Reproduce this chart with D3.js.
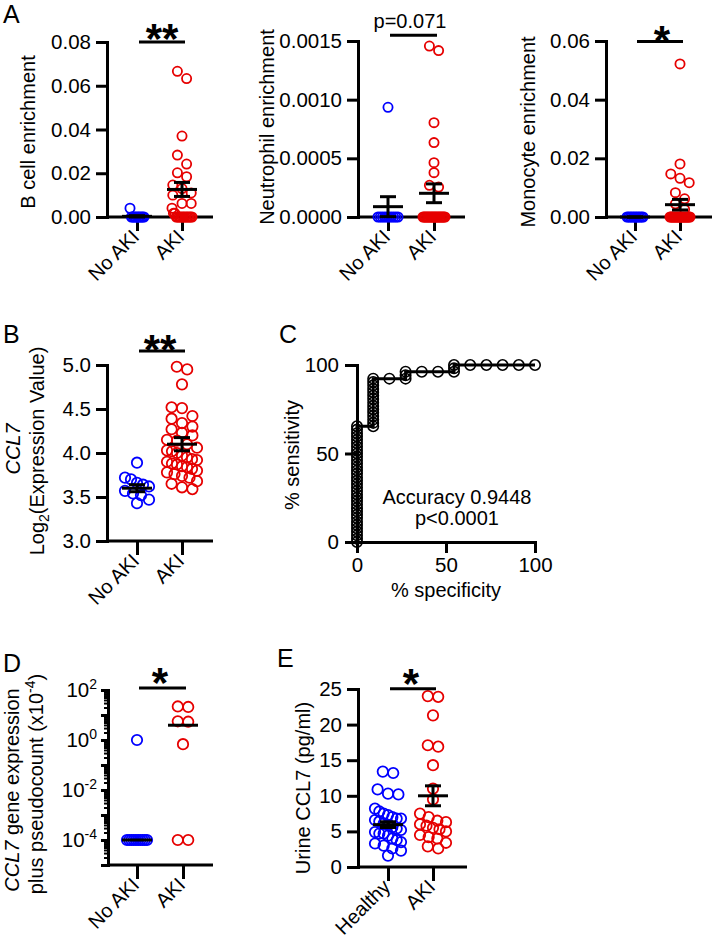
<!DOCTYPE html>
<html><head><meta charset="utf-8">
<script src="https://cdn.jsdelivr.net/npm/d3@7/dist/d3.min.js"></script>
<style>
body{margin:0;background:#fff}
svg text{font-family:"Liberation Sans",Arial,Helvetica,sans-serif;fill:#000}
</style>
</head><body>
<svg id="c" width="714" height="944"></svg>
<script>
// ================= DATA =================
const catsKidney = ["No AKI", "AKI"];
const catsUrine = ["Healthy", "AKI"];
const groupColors = ["#0000ff", "#e60000"];

// Panel A – B cell enrichment
const bcellNoAKI = [0.0040, 0, 0, 0, 0, 0, 0, 0, 0, 0, 0];
const bcellAKI = [0.0666, 0.0633, 0.0370, 0.0283, 0.0242, 0.0202, 0.0184, 0.0146, 0.0130, 0.0110, 0.0100, 0.0062, 0.0062, 0.0040, 0.0017, 0.0017, 0, 0, 0, 0, 0, 0, 0, 0, 0, 0, 0, 0];
const bcellMean = [0.0003, 0.0126];
const bcellSem = [0.0003, 0.0032];
const bcellTicks = [0, 0.02, 0.04, 0.06, 0.08];

// Panel A – Neutrophil enrichment
const neutNoAKI = [0.000935, 0, 0, 0, 0, 0, 0, 0, 0, 0, 0];
const neutAKI = [0.001457, 0.001418, 0.000804, 0.000634, 0.000463, 0.000378, 0.000270, 0.000255, 0, 0, 0, 0, 0, 0, 0, 0, 0, 0, 0, 0, 0, 0, 0, 0, 0, 0, 0, 0];
const neutMean = [0.000088, 0.000202];
const neutSem = [0.000085, 0.000080];
const neutTicks = [0, 0.0005, 0.0010, 0.0015];

// Panel A – Monocyte enrichment
const monoNoAKI = [0, 0, 0, 0, 0, 0, 0, 0, 0, 0, 0];
const monoAKI = [0.0522, 0.0181, 0.0147, 0.0132, 0.0117, 0.0083, 0.0062, 0.0045, 0.0026, 0, 0, 0, 0, 0, 0, 0, 0, 0, 0, 0, 0, 0, 0, 0, 0, 0, 0, 0, 0];
const monoMean = [0, 0.0042];
const monoSem = [0, 0.0018];
const monoTicks = [0, 0.02, 0.04, 0.06];

// Panel B – CCL7 log2 expression
const ccl7NoAKI = [3.89, 3.72, 3.70, 3.66, 3.64, 3.62, 3.57, 3.54, 3.52, 3.47, 3.43];
const ccl7AKI = [4.98, 4.95, 4.78, 4.52, 4.51, 4.42, 4.39, 4.34, 4.30, 4.27, 4.23, 4.20, 4.15, 4.14, 4.10, 4.06, 4.03, 4.02, 4.00, 3.97, 3.95, 3.93, 3.92, 3.90, 3.88, 3.87, 3.85, 3.84, 3.82, 3.80, 3.78, 3.76, 3.74, 3.72, 3.68, 3.65, 3.61, 3.59];
const ccl7Mean = [3.60, 4.10];
const ccl7Sem = [0.04, 0.075];
const ccl7Ticks = [3.0, 3.5, 4.0, 4.5, 5.0];

// Panel C – ROC curve
const rocSpecificity = [0, 0, 0, 0, 0, 0, 0, 0, 0, 0, 0, 0, 0, 0, 0, 0, 0, 0, 0, 0, 0, 0, 0, 0, 0, 0, 0, 0, 0, 0, 0, 0, 0, 0, 0,
  9.1, 9.1, 9.1, 9.1, 9.1, 9.1, 9.1, 9.1, 9.1, 9.1, 9.1, 9.1, 9.1, 9.1, 9.1,
  18.2, 27.3, 27.3, 27.3, 36.4, 45.5, 54.5, 54.5, 54.5, 63.6, 72.7, 81.8, 90.9, 100];
const rocSensitivity = [0, 1.9, 3.8, 5.8, 7.7, 9.6, 11.5, 13.5, 15.4, 17.3, 19.2, 21.2, 23.1, 25.0, 26.9, 28.8, 30.8, 32.7, 34.6, 36.5, 38.5, 40.4, 42.3, 44.2, 46.2, 48.1, 50.0, 51.9, 53.8, 55.8, 57.7, 59.6, 61.5, 63.5, 65.4,
  65.4, 67.3, 69.2, 71.2, 73.1, 75.0, 76.9, 78.8, 80.8, 82.7, 84.6, 86.5, 88.5, 90.4, 92.3,
  92.3, 92.3, 94.2, 96.2, 96.2, 96.2, 96.2, 98.1, 100, 100, 100, 100, 100, 100];
const rocTicks = [0, 50, 100];
const rocText = ["Accuracy 0.9448", "p<0.0001"];

// Panel D – single-cell CCL7 (log scale)
const scNoAKI = [1.0, 1e-4, 1e-4, 1e-4, 1e-4, 1e-4, 1e-4, 1e-4, 1e-4, 1e-4, 1e-4];
const scAKI = [22, 21, 5.6, 5.4, 0.68, 1e-4, 1e-4];
const scMedian = [1e-4, 3.9];
const scTicks = [1e2, 1e0, 1e-2, 1e-4];
const scTickExp = ["2", "0", "-2", "-4"];

// Panel E – urine CCL7
const urineHealthy = [13.4, 13.2, 10.9, 10.3, 10.2, 8.2, 7.8, 7.5, 7.3, 7.0, 6.8, 6.8, 6.6, 6.4, 6.1, 5.9, 5.6, 5.4, 5.2, 4.9, 4.7, 4.7, 4.4, 4.0, 3.8, 3.5, 3.3, 3.0, 2.6, 2.3, 1.6];
const urineAKI = [24.0, 23.9, 21.3, 17.1, 16.9, 14.3, 11.0, 9.5, 7.5, 7.0, 6.5, 6.3, 6.0, 5.8, 5.5, 5.3, 5.0, 4.5, 4.2, 4.0, 3.4, 2.9, 2.6];
const urineMean = [5.95, 10.0];
const urineSem = [0.4, 1.4];
const urineTicks = [0, 5, 10, 15, 20, 25];

// ================= DRAWING =================
const FONT = '"Liberation Sans", Arial, Helvetica, sans-serif';
const FS = 20;     // titles / category labels
const TFS = 20.5;  // tick labels
const svg = d3.select("#c");

function styleAxis(g, fs) {
  g.attr("font-size", fs || TFS).attr("font-family", FONT);
  g.select(".domain").attr("stroke-width", 3).attr("stroke-linecap", "square");
  g.selectAll(".tick line").attr("stroke-width", 3);
  g.selectAll(".tick text").attr("fill", "#000");
}

function layout(vals, ys, r, maxHalf) {
  const idx = d3.range(vals.length).sort((a, b) => ys[a] - ys[b]);
  const off = new Array(vals.length).fill(0);
  const rows = []; let row = []; let startY = null;
  idx.forEach(i => {
    if (row.length && ys[i] - startY >= 2 * r) { rows.push(row); row = []; }
    if (!row.length) startY = ys[i];
    row.push(i);
  });
  if (row.length) rows.push(row);
  rows.forEach(rw => {
    const m = rw.length;
    if (m === 1) return;
    const sp = Math.min(2 * r, 2 * maxHalf / (m - 1));
    rw.forEach((i, k) => { off[i] = (k - (m - 1) / 2) * sp; });
  });
  return off;
}

function panelLetter(t, x, y) {
  svg.append("text").attr("x", x).attr("y", y).attr("font-size", 25).text(t);
}

function stars(t, cx, cy, fs) {
  svg.append("text").attr("x", cx).attr("y", cy + 0.58 * fs).attr("text-anchor", "middle")
    .attr("font-size", fs).attr("font-weight", "bold").text(t);
}

function dotPanel(o) {
  const g = svg.append("g");
  const y = o.y;
  const x = d3.scalePoint().domain(o.cats).range(o.catX);
  const y0 = y.range()[0];
  g.append("line").attr("x1", o.ax).attr("x2", o.xEnd).attr("y1", y0).attr("y2", y0)
    .attr("stroke", "#000").attr("stroke-width", 3);
  const xa = g.append("g").attr("transform", `translate(0,${y0})`)
    .call(d3.axisBottom(x).tickSize(14).tickSizeOuter(0));
  styleAxis(xa, FS);
  xa.select(".domain").remove();
  xa.selectAll(".tick text").attr("x", 0).attr("y", 0).attr("dy", "0.35em")
    .attr("text-anchor", "end").attr("transform", "translate(-2,16) rotate(-45)");
  const ya = g.append("g").attr("transform", `translate(${o.ax},0)`);
  o.drawY(ya, y);
  o.groups.forEach((vals, gi) => {
    const ys = vals.map(v => y(v));
    const off = layout(vals, ys, o.r, o.maxHalf[gi]);
    g.append("g").selectAll("circle").data(vals).join("circle")
      .attr("cx", (d, i) => x(o.cats[gi]) + off[i])
      .attr("cy", (d, i) => ys[i])
      .attr("r", o.r).attr("fill", "none")
      .attr("stroke", groupColors[gi]).attr("stroke-width", 1.8);
  });
  o.cats.forEach((c, gi) => {
    const cx = x(c);
    const m = o.center[gi];
    g.append("line").attr("x1", cx - 15).attr("x2", cx + 15).attr("y1", y(m)).attr("y2", y(m))
      .attr("stroke", "#000").attr("stroke-width", 3);
    if (o.sem) {
      const s = o.sem[gi];
      const lo = y(Math.max(m - s, y.domain()[0])), hi = y(m + s);
      g.append("line").attr("x1", cx).attr("x2", cx).attr("y1", lo).attr("y2", hi)
        .attr("stroke", "#000").attr("stroke-width", 3);
      [m - s, m + s].forEach(v => {
        if (v < y.domain()[0]) return;
        g.append("line").attr("x1", cx - 8).attr("x2", cx + 8).attr("y1", y(v)).attr("y2", y(v))
          .attr("stroke", "#000").attr("stroke-width", 3);
      });
    }
  });
  const sy = y(o.sigValue);
  g.append("line").attr("x1", x(o.cats[0]) + 2).attr("x2", x(o.cats[1]) + 3).attr("y1", sy).attr("y2", sy)
    .attr("stroke", "#000").attr("stroke-width", 3);
  return { x, y, sy };
}

function linYAxis(ticks, fmt) {
  return (g, y) => {
    g.call(d3.axisLeft(y).tickValues(ticks).tickFormat(fmt).tickSize(11).tickPadding(5).tickSizeOuter(0));
    styleAxis(g);
  };
}

function yLabel(x, yc, build) {
  const t = svg.append("text").attr("transform", `translate(${x},${yc}) rotate(-90)`)
    .attr("text-anchor", "middle").attr("font-size", FS);
  build(t);
  return t;
}

// ---- A1 B cell
panelLetter("A", 3, 23);
dotPanel({
  y: d3.scaleLinear().domain([0, 0.08]).range([217, 42]),
  ax: 107, xEnd: 213, catX: [137, 182], cats: catsKidney,
  groups: [bcellNoAKI, bcellAKI], center: bcellMean, sem: bcellSem,
  r: 4.6, maxHalf: [7, 10], sigValue: 0.08,
  drawY: linYAxis(bcellTicks, d3.format(".2f"))
});
stars("**", 162, 29, 42);
yLabel(35, 132, t => t.text("B cell enrichment"));

// ---- A2 Neutrophil
dotPanel({
  y: d3.scaleLinear().domain([0, 0.0015]).range([217, 41]),
  ax: 358, xEnd: 465, catX: [388, 434], cats: catsKidney,
  groups: [neutNoAKI, neutAKI], center: neutMean, sem: neutSem,
  r: 4.6, maxHalf: [10, 11], sigValue: 0.00155,
  drawY: linYAxis(neutTicks, d3.format(".4f"))
});
svg.append("text").attr("x", 410).attr("y", 28).attr("text-anchor", "middle").attr("font-size", FS).text("p=0.071");
yLabel(274, 127, t => t.text("Neutrophil enrichment"));

// ---- A3 Monocyte
dotPanel({
  y: d3.scaleLinear().domain([0, 0.06]).range([217, 41]),
  ax: 606, xEnd: 712, catX: [635, 680], cats: catsKidney,
  groups: [monoNoAKI, monoAKI], center: monoMean, sem: monoSem,
  r: 4.6, maxHalf: [8, 10], sigValue: 0.0598,
  drawY: linYAxis(monoTicks, d3.format(".2f"))
});
stars("*", 662, 31, 42);
yLabel(535, 132, t => t.text("Monocyte enrichment"));

// ---- B
panelLetter("B", 3, 343);
dotPanel({
  y: d3.scaleLinear().domain([3, 5]).range([541, 365]),
  ax: 107, xEnd: 213, catX: [137, 182], cats: catsKidney,
  groups: [ccl7NoAKI, ccl7AKI], center: ccl7Mean, sem: ccl7Sem,
  r: 5.2, maxHalf: [12, 15], sigValue: 5.16,
  drawY: linYAxis(ccl7Ticks, d3.format(".1f"))
});
stars("**", 160, 340, 42);
yLabel(20, 449, t => t.append("tspan").attr("font-style", "italic").text("CCL7"));
yLabel(44, 451, t => {
  t.append("tspan").text("Log");
  t.append("tspan").attr("font-size", 14).attr("dy", 5).text("2");
  t.append("tspan").attr("dy", -5).text("(Expression Value)");
});

// ---- C ROC
panelLetter("C", 279, 343);
{
  const g = svg.append("g");
  const x = d3.scaleLinear().domain([0, 100]).range([357, 535]);
  const y = d3.scaleLinear().domain([0, 100]).range([542, 365]);
  const xa = g.append("g").attr("transform", "translate(0,542)")
    .call(d3.axisBottom(x).tickValues(rocTicks).tickSize(11).tickPadding(4).tickSizeOuter(0));
  styleAxis(xa);
  const ya = g.append("g").attr("transform", "translate(357,0)")
    .call(d3.axisLeft(y).tickValues(rocTicks).tickSize(12).tickPadding(6).tickSizeOuter(0));
  styleAxis(ya);
  const pts = rocSpecificity.map((s, i) => [s, rocSensitivity[i]]);
  g.append("path").attr("d", d3.line().x(d => x(d[0])).y(d => y(d[1]))(pts))
    .attr("fill", "none").attr("stroke", "#000").attr("stroke-width", 3);
  g.append("g").selectAll("circle").data(pts).join("circle")
    .attr("cx", d => x(d[0])).attr("cy", d => y(d[1])).attr("r", 5.2)
    .attr("fill", "none").attr("stroke", "#000").attr("stroke-width", 1.6);
  g.append("text").attr("x", 457).attr("y", 504).attr("text-anchor", "middle").attr("font-size", FS).text(rocText[0]);
  g.append("text").attr("x", 457).attr("y", 525).attr("text-anchor", "middle").attr("font-size", FS).text(rocText[1]);
  g.append("text").attr("x", 446).attr("y", 597).attr("text-anchor", "middle").attr("font-size", FS).text("% specificity");
  yLabel(299, 455, t => t.text("% sensitivity"));
}

// ---- D log
panelLetter("D", 3, 672);
dotPanel({
  y: d3.scaleLog().domain([1e-5, 1e2]).range([865, 690]),
  ax: 108, xEnd: 213, catX: [137, 183], cats: catsKidney,
  groups: [scNoAKI, scAKI], center: scMedian, sem: null,
  r: 5.2, maxHalf: [10, 8], sigValue: Math.pow(10, 2.08),
  drawY: (g, y) => {
    const minor = [];
    for (let e = -5; e < 2; e++) for (let k = 2; k <= 9; k++) minor.push(k * Math.pow(10, e));
    const gm = g.append("g").call(d3.axisLeft(y).tickValues(minor).tickSize(4).tickFormat("").tickSizeOuter(0));
    styleAxis(gm); gm.selectAll(".tick line").attr("stroke-width", 2);
    const decades = [1e-5, 1e-4, 1e-3, 1e-2, 1e-1, 1e0, 1e1, 1e2];
    const gd = g.append("g").call(d3.axisLeft(y).tickValues(decades).tickSize(7).tickFormat("").tickSizeOuter(0));
    styleAxis(gd);
    const gl = g.append("g").call(d3.axisLeft(y).tickValues(scTicks).tickSize(7).tickPadding(4).tickSizeOuter(0));
    styleAxis(gl);
    gl.selectAll(".tick text").each(function (d, i) {
      const t = d3.select(this).text("");
      t.append("tspan").text("10");
      t.append("tspan").attr("font-size", 14).attr("dy", -8).text(scTickExp[i]);
    });
  }
});
stars("*", 160, 673, 42);
yLabel(19, 790, t => {
  t.append("tspan").attr("font-style", "italic").text("CCL7");
  t.append("tspan").text(" gene expression");
});
yLabel(43, 784, t => {
  t.append("tspan").text("plus pseudocount (x10");
  t.append("tspan").attr("font-size", 14).attr("dy", -8).text("-4");
  t.append("tspan").attr("dy", 8).text(")");
});

// ---- E urine
panelLetter("E", 277, 667);
dotPanel({
  y: d3.scaleLinear().domain([0, 25]).range([867, 689]),
  ax: 358, xEnd: 467, catX: [388, 433], cats: catsUrine,
  groups: [urineHealthy, urineAKI], center: urineMean, sem: urineSem,
  r: 5.2, maxHalf: [13, 13], sigValue: 25.05,
  drawY: linYAxis(urineTicks, d3.format("d"))
});
stars("*", 411, 674, 42);
yLabel(310, 788, t => t.text("Urine CCL7 (pg/ml)"));
</script>
</body></html>
